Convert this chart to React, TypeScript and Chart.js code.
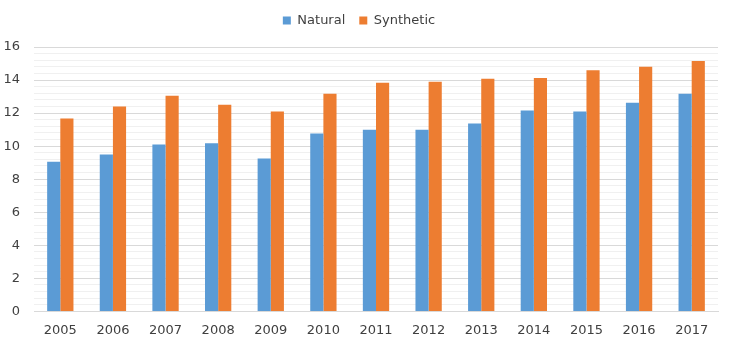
import React, { useEffect, useRef } from "react";
import { Chart, registerables } from "chart.js";

Chart.register(...registerables);

const years = ["2005", "2006", "2007", "2008", "2009", "2010", "2011", "2012", "2013", "2014", "2015", "2016", "2017"];
const natural = [9.05, 9.5, 10.1, 10.17, 9.26, 10.77, 11.0, 11.0, 11.37, 12.15, 12.09, 12.63, 13.17];
const synthetic = [11.67, 12.4, 13.05, 12.5, 12.1, 13.17, 13.83, 13.9, 14.08, 14.13, 14.6, 14.8, 15.16];

const isMajor = (v: number) => Math.abs(v / 2 - Math.round(v / 2)) < 1e-6;

const legendMargin = {
  id: "legendMargin",
  beforeInit(chart: any) {
    const legend = chart.legend;
    if (!legend) return;
    const origFit = legend.fit;
    legend.fit = function () {
      origFit.call(this);
      this.height += 10;
    };
  },
};

export default function App() {
  const ref = useRef<HTMLCanvasElement>(null);
  useEffect(() => {
    if (!ref.current) return;
    const font = { family: "Verdana, 'DejaVu Sans', sans-serif", size: 13 };
    const chart = new Chart(ref.current, {
      type: "bar",
      data: {
        labels: years,
        datasets: [
          { label: "Natural", data: natural, backgroundColor: "#5B9BD5", categoryPercentage: 0.5, barPercentage: 1 },
          { label: "Synthetic", data: synthetic, backgroundColor: "#ED7D31", categoryPercentage: 0.5, barPercentage: 1 },
        ],
      },
      plugins: [legendMargin],
      options: {
        animation: false,
        responsive: true,
        maintainAspectRatio: false,
        layout: { padding: { left: 0, right: 14, top: 0, bottom: 2 } },
        plugins: {
          legend: {
            position: "top",
            labels: { font, color: "#404040", boxWidth: 8, boxHeight: 8, padding: 14 },
          },
          tooltip: { enabled: false },
        },
        scales: {
          x: {
            grid: { display: false },
            border: { color: "#d9d9d9" },
            ticks: { font, color: "#404040", maxRotation: 0 },
          },
          y: {
            min: 0,
            max: 16,
            border: { display: false },
            afterFit: (s: any) => {
              s.width = 34;
            },
            grid: {
              color: (ctx: any) => (isMajor(ctx.tick.value) ? "#d9d9d9" : "#f0f0f0"),
              drawTicks: false,
            },
            ticks: {
              stepSize: 0.4,
              autoSkip: false,
              font,
              color: "#404040",
              padding: 14,
              callback: (v: any) => (isMajor(Number(v)) ? String(Math.round(Number(v))) : ""),
            },
          },
        },
      },
    });
    return () => chart.destroy();
  }, []);
  return (
    <div style={{ position: "fixed", left: 0, top: 0, width: 732, height: 343, background: "#fff" }}>
      <canvas ref={ref} />
    </div>
  );
}
